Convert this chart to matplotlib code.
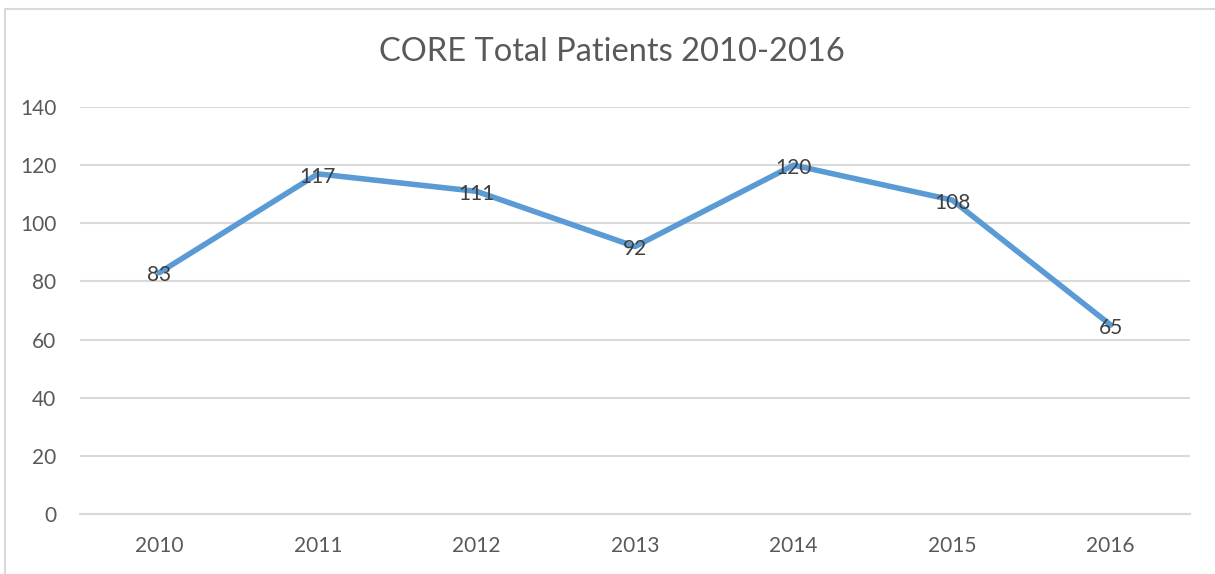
import matplotlib.pyplot as plt
from matplotlib.patches import Rectangle

years = ['2010', '2011', '2012', '2013', '2014', '2015', '2016']
patients = [83, 117, 111, 92, 120, 108, 65]
y_ticks = [0, 20, 40, 60, 80, 100, 120, 140]

plt.rcParams['font.family'] = ['Lato', 'DejaVu Sans']

fig = plt.figure(figsize=(12.15, 5.74), dpi=100)
# рамка диаграммы
fig.patches.append(Rectangle((5 / 1215, -0.1), 1.2, 1 - 9 / 574 + 0.1,
                             transform=fig.transFigure, fill=False,
                             edgecolor='#D9D9D9', linewidth=1.5))

ax = fig.add_axes([80 / 1215, 1 - 514 / 574, 1110 / 1215, 407 / 574])
x = range(len(years))
ax.plot(x, patients, color='#5B9BD5', linewidth=4, solid_capstyle='round',
        solid_joinstyle='round', zorder=3)
for xi, v in zip(x, patients):
    ax.annotate(str(v), (xi, v), xytext=(0, -2), textcoords='offset points',
                ha='center', va='center', fontsize=15, color='#404040', zorder=4)

ax.set_xlim(-0.5, len(years) - 0.5)
ax.set_ylim(0, 140)
ax.set_xticks(list(x))
ax.set_xticklabels(years)
ax.set_yticks(y_ticks)
ax.tick_params(length=0, labelsize=15, labelcolor='#595959')
ax.tick_params(axis='x', pad=16)
ax.tick_params(axis='y', pad=17)
ax.grid(axis='y', color='#D9D9D9', linewidth=1.5)
ax.set_axisbelow(True)
for s in ['top', 'right', 'left']:
    ax.spines[s].set_visible(False)
ax.spines['bottom'].set_color('#D9D9D9')
ax.spines['bottom'].set_linewidth(1.5)

fig.text(612 / 1215, 1 - 52 / 574, 'CORE Total Patients 2010-2016',
         ha='center', va='center', fontsize=23.5, color='#595959')

fig.savefig('out.png', dpi=100)
